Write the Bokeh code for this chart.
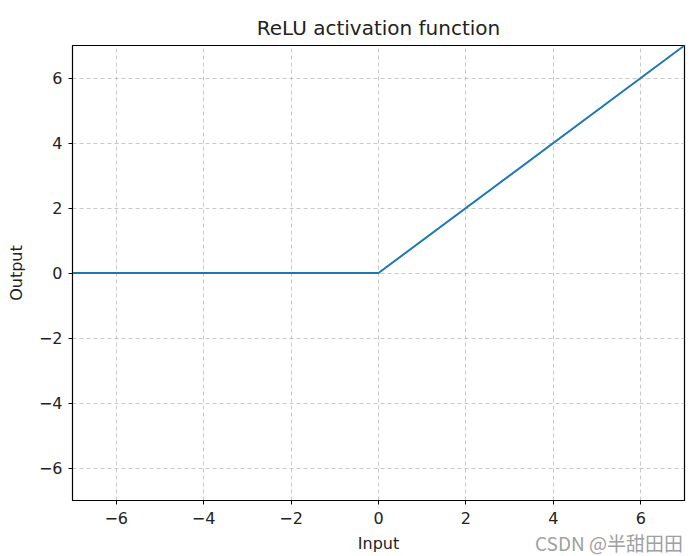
from bokeh.plotting import figure
from bokeh.models import FixedTicker, Range1d, Div
from bokeh.layouts import column
from bokeh.embed import file_html
from bokeh.resources import INLINE

x_vals = [-7, 0, 7]
y_vals = [0, 0, 7]
x_ticks = [-6, -4, -2, 0, 2, 4, 6]
y_ticks = [-6, -4, -2, 0, 2, 4, 6]
tick_labels = {t: (("\u2212" + str(-t)) if t < 0 else str(t)) for t in x_ticks}
watermark = "CSDN @\u534a\u751c\u7530\u7530"

FONT = "DejaVu Sans"

p = figure(width=690, height=556, output_backend="svg", toolbar_location=None,
           x_range=Range1d(-7, 7), y_range=Range1d(-7, 7),
           min_border_left=72, min_border_right=6, min_border_top=45, min_border_bottom=56)
p.title.text = "ReLU activation function"
p.title.align = "center"
p.title.text_font = FONT
p.title.text_font_size = "20px"
p.title.text_font_style = "normal"
p.title.text_color = "#222222"
p.title.standoff = 12

p.line(x_vals, y_vals, line_color="#1f77b4", line_width=2)

p.outline_line_color = "black"
p.outline_line_width = 1.2
p.background_fill_color = "white"
p.border_fill_color = "white"

for ax, ticks in ((p.xaxis, x_ticks), (p.yaxis, y_ticks)):
    ax.ticker = FixedTicker(ticks=ticks)
    ax.major_label_overrides = tick_labels
    ax.minor_tick_line_color = None
    ax.major_tick_out = 4
    ax.major_tick_in = 0
    ax.axis_line_color = "black"
    ax.major_tick_line_color = "black"
    ax.major_label_text_font = FONT
    ax.major_label_text_font_size = "16px"
    ax.major_label_text_color = "#222222"
    ax.axis_label_text_font = FONT
    ax.axis_label_text_font_size = "16px"
    ax.axis_label_text_font_style = "normal"
    ax.axis_label_text_color = "#222222"

p.xaxis.axis_label = "Input"
p.yaxis.axis_label = "Output"
p.xaxis.major_label_standoff = 7
p.yaxis.major_label_standoff = 6
p.xaxis.axis_label_standoff = 7
p.yaxis.axis_label_standoff = 10

for g in (p.xgrid, p.ygrid):
    g.ticker = FixedTicker(ticks=x_ticks)
    g.grid_line_color = "#b0b0b0"
    g.grid_line_alpha = 0.7
    g.grid_line_dash = "4 3"
    g.grid_line_width = 1

wm = Div(text=watermark, width=160, height=22, margin=(-24, 0, 0, 535),
         styles={"font-family": "'Noto Sans CJK SC', sans-serif", "font-size": "19px",
                 "color": "#a0a0a0", "line-height": "22px", "white-space": "nowrap"})

layout = column(p, wm, spacing=0)
open("out.html", "w").write(file_html(layout, INLINE))
